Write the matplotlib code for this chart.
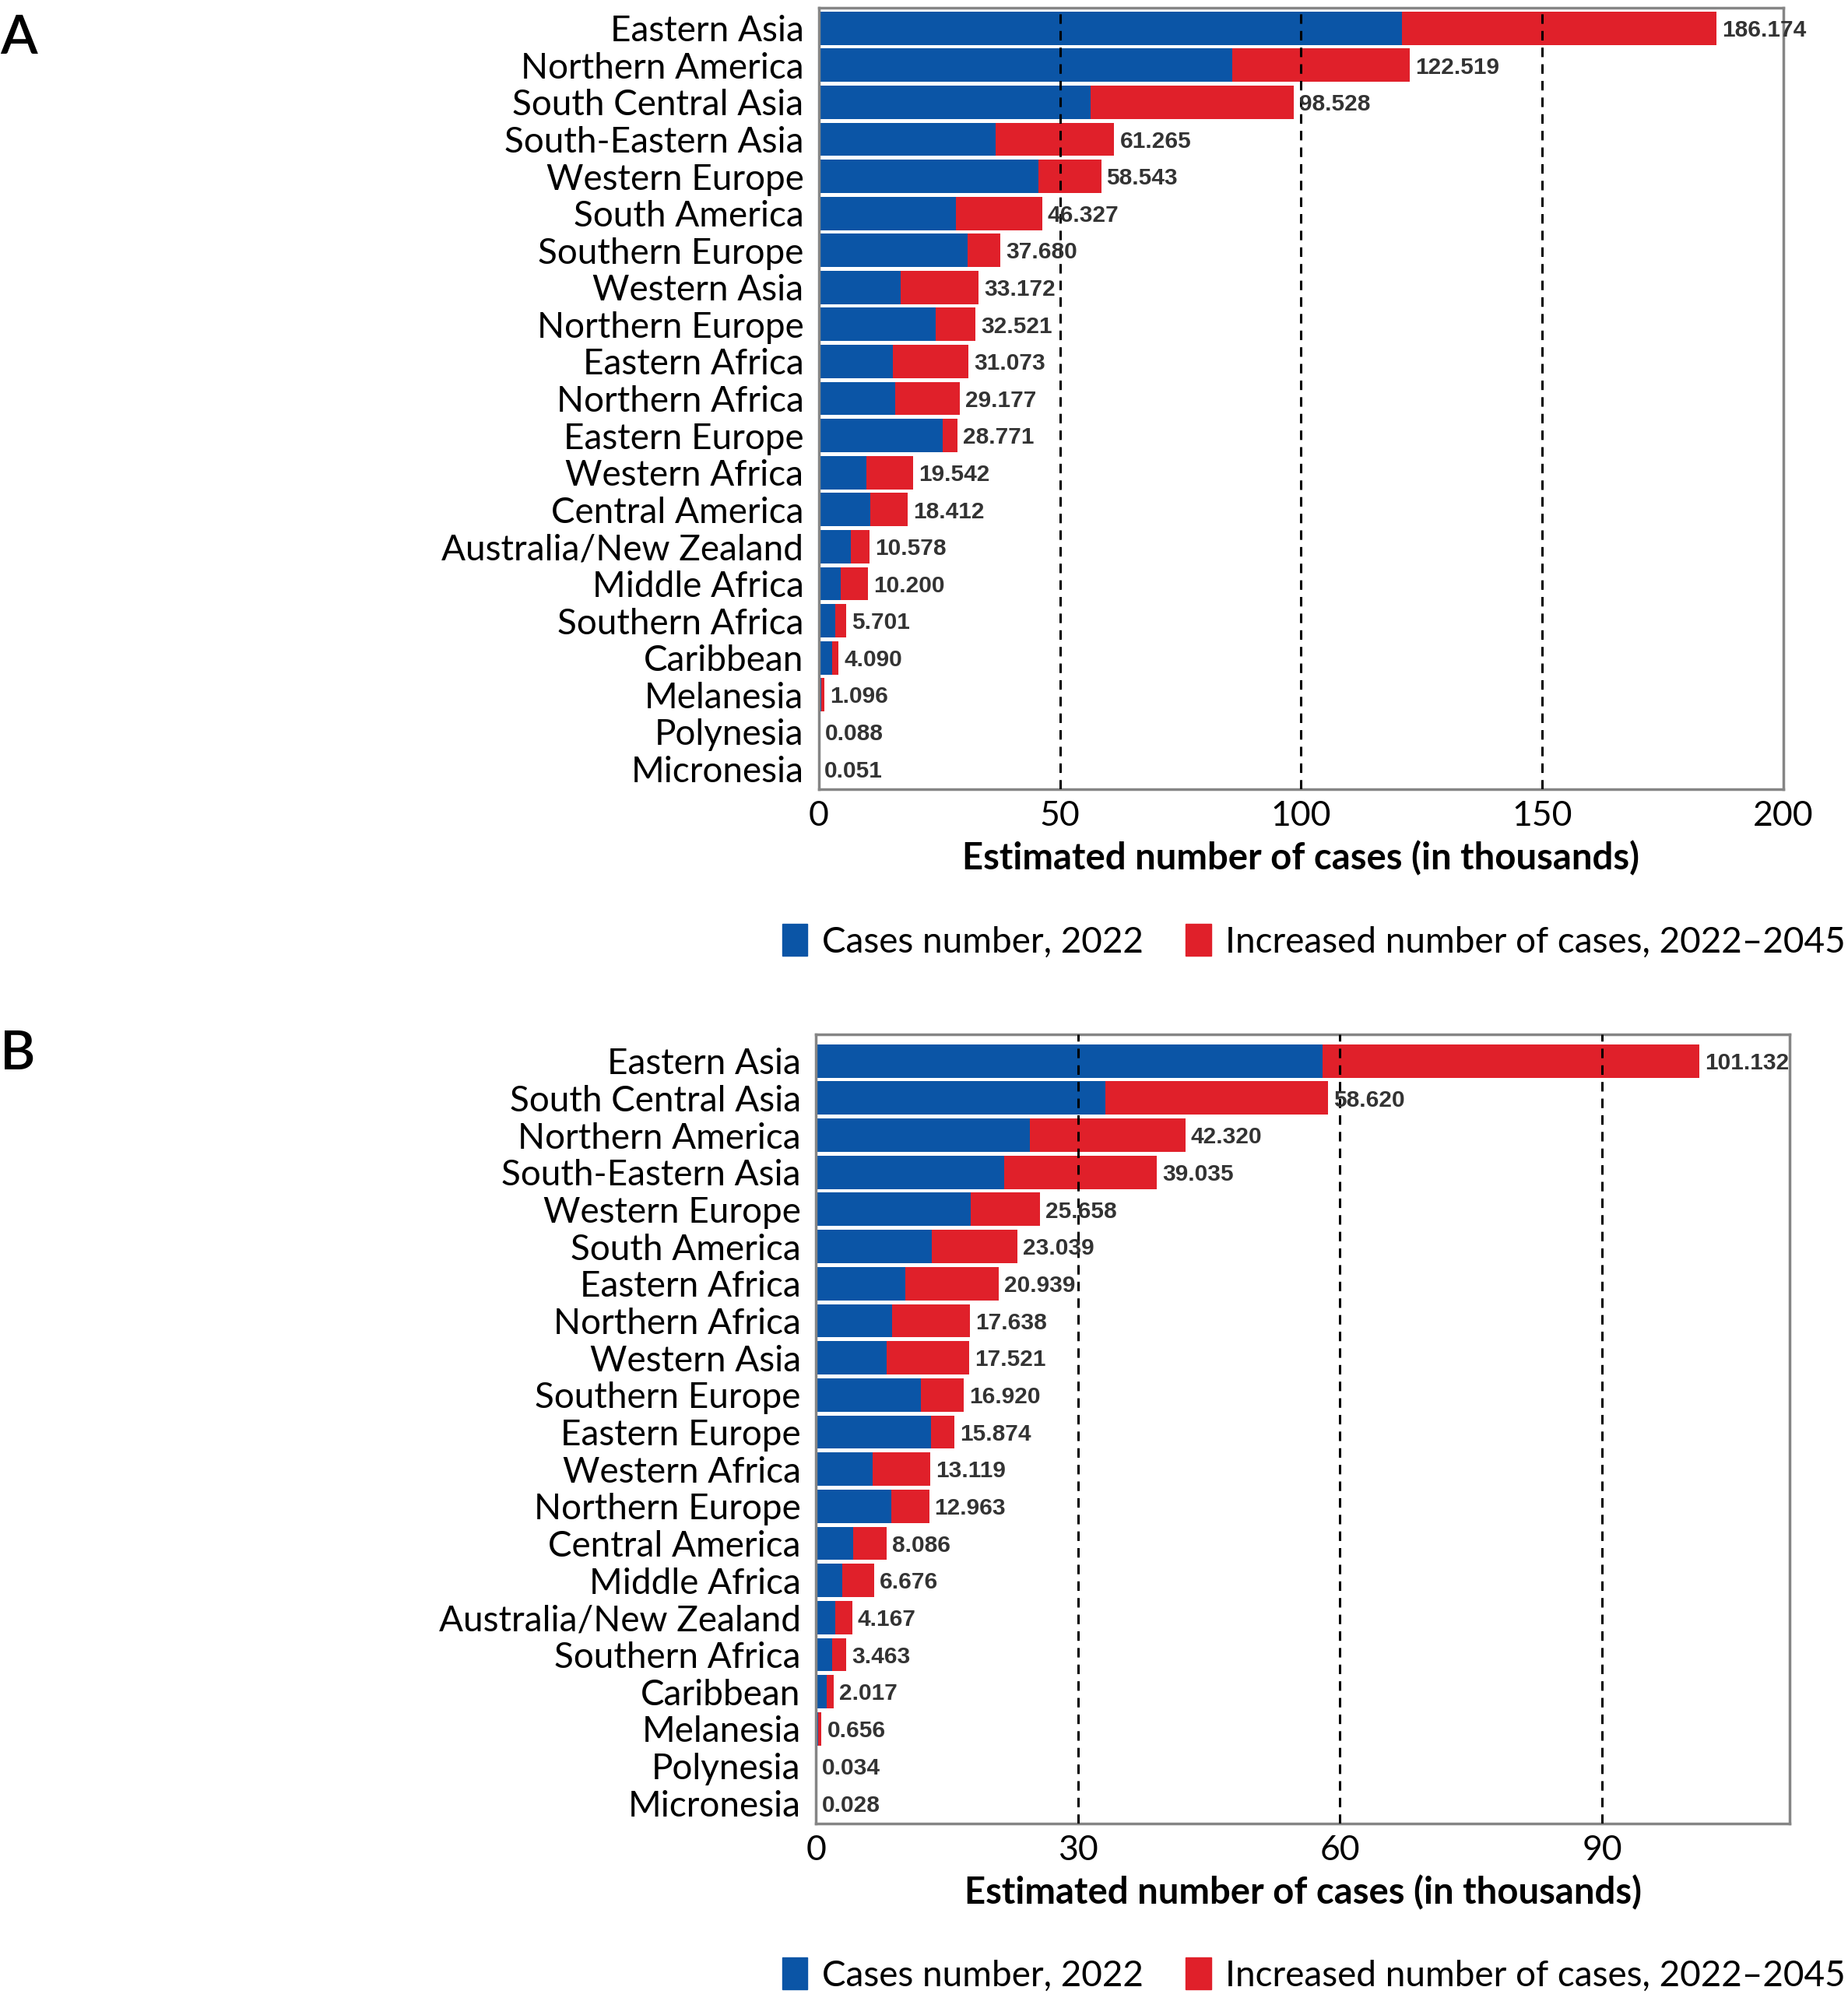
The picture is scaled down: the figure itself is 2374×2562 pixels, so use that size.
import matplotlib
matplotlib.use("Agg")
import matplotlib.pyplot as plt
from matplotlib.patches import Patch

# panel A: all cancers of this kind (thousands)
regions_a = ["Eastern Asia", "Northern America", "South Central Asia", "South-Eastern Asia",
             "Western Europe", "South America", "Southern Europe", "Western Asia",
             "Northern Europe", "Eastern Africa", "Northern Africa", "Eastern Europe",
             "Western Africa", "Central America", "Australia/New Zealand", "Middle Africa",
             "Southern Africa", "Caribbean", "Melanesia", "Polynesia", "Micronesia"]
cases_2022_a = [120.9, 85.8, 56.3, 36.6, 45.5, 28.4, 30.9, 17.0, 24.3, 15.3, 15.9, 25.7,
                9.8, 10.6, 6.7, 4.5, 3.4, 2.8, 0.5, 0.05, 0.03]
total_2045_a = [186.174, 122.519, 98.528, 61.265, 58.543, 46.327, 37.680, 33.172, 32.521,
                31.073, 29.177, 28.771, 19.542, 18.412, 10.578, 10.200, 5.701, 4.090,
                1.096, 0.088, 0.051]

# panel B: deaths (thousands)
regions_b = ["Eastern Asia", "South Central Asia", "Northern America", "South-Eastern Asia",
             "Western Europe", "South America", "Eastern Africa", "Northern Africa",
             "Western Asia", "Southern Europe", "Eastern Europe", "Western Africa",
             "Northern Europe", "Central America", "Middle Africa", "Australia/New Zealand",
             "Southern Africa", "Caribbean", "Melanesia", "Polynesia", "Micronesia"]
cases_2022_b = [58.0, 33.1, 24.5, 21.6, 17.7, 13.3, 10.2, 8.7, 8.1, 12.0, 13.2, 6.5, 8.6,
                4.3, 3.0, 2.2, 1.9, 1.25, 0.3, 0.02, 0.015]
total_2045_b = [101.132, 58.620, 42.320, 39.035, 25.658, 23.039, 20.939, 17.638, 17.521,
                16.920, 15.874, 13.119, 12.963, 8.086, 6.676, 4.167, 3.463, 2.017, 0.656,
                0.034, 0.028]

ticks_a = [0, 50, 100, 150, 200]
ticks_b = [0, 30, 60, 90]

BLUE = "#0b55a6"
RED = "#e0202a"
FONT = "Lato"
XLABEL = "Estimated number of cases (in thousands)"
LEG = ["Cases number, 2022", "Increased number of cases, 2022\u20132045"]

fig = plt.figure(figsize=(23.74, 25.62), dpi=100)


def panel(rect, regions, base, total, ticks, xmax, ylim):
    ax = fig.add_axes(rect)
    y = list(range(len(regions)))
    inc = [t - b for t, b in zip(total, base)]
    ax.barh(y, base, height=0.9, color=BLUE, zorder=2)
    ax.barh(y, inc, left=base, height=0.9, color=RED, zorder=2)
    for t in ticks[1:]:
        if t < xmax:
            ax.axvline(t, color="black", lw=2.2, ls=(0, (4, 3)), zorder=3)
    for yi, t in zip(y, total):
        ax.annotate(f"{t:.3f}", (t, yi), xytext=(5, -2), textcoords="offset points",
                    va="center", ha="left", fontsize=21.5, fontweight="bold",
                    family="Liberation Sans", color="#333333", zorder=4,
                    annotation_clip=False)
    ax.set_xlim(0, xmax)
    ax.set_ylim(*ylim)
    ax.set_yticks(y)
    ax.set_yticklabels(regions, fontsize=33, family=FONT)
    ax.set_xticks(ticks)
    ax.set_xticklabels([str(t) for t in ticks], fontsize=32, family=FONT)
    ax.tick_params(length=0, pad=10)
    ax.tick_params(axis="y", pad=14)
    ax.set_xlabel(XLABEL, fontsize=34, family=FONT, fontweight="bold", labelpad=8)
    for s in ax.spines.values():
        s.set_color("#858585")
        s.set_linewidth(2.5)
    return ax


panel([0.4431, 0.6042, 0.5219, 0.3919], regions_a, cases_2022_a, total_2045_a,
      ticks_a, 200, (20.55, -0.55))
panel([0.4415, 0.0855, 0.5270, 0.3958], regions_b, cases_2022_b, total_2045_b,
      ticks_b, 111.5, (20.55, -0.72))

handles = [Patch(color=BLUE), Patch(color=RED)]
for ypos in (0.528, 0.0096):
    fig.legend(handles, LEG, loc="center", bbox_to_anchor=(0.711, ypos), ncol=2,
               frameon=False, prop={"family": FONT, "size": 33},
               handlelength=0.7, handleheight=1.0, handletextpad=0.4,
               columnspacing=1.2, borderpad=0)

fig.text(0.0, 0.993, "A", fontsize=50, family=FONT, fontweight="semibold",
         va="top", ha="left")
fig.text(0.0, 0.4835, "B", fontsize=50, family=FONT, fontweight="semibold",
         va="top", ha="left")

fig.savefig("out.png", dpi=100)
